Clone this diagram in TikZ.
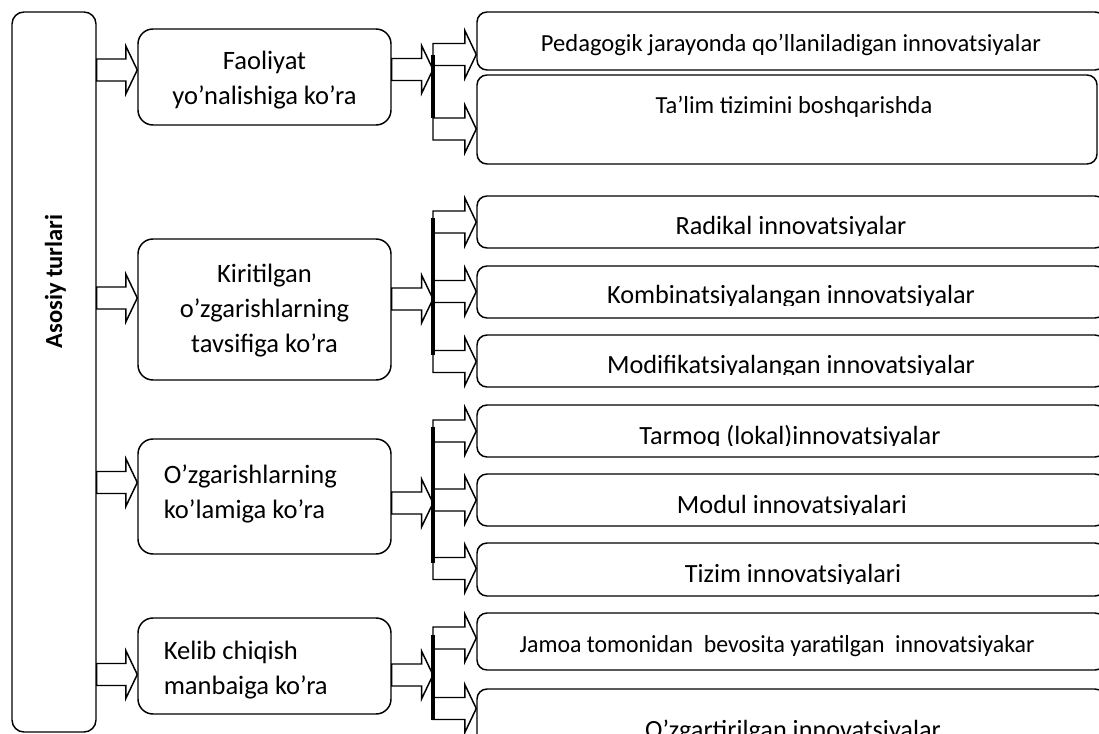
\documentclass[tikz,border=0pt]{standalone}
\usepackage{fontspec}
\setmainfont{Carlito}
\usepackage{graphicx}
\usepackage{tikz}
\usetikzlibrary{calc}
\usetikzlibrary{fit}

% ichi bo'sh blok strelka: #1 dan #2 gacha, balandlik #3
\newcommand\barrow[3]{%
  \draw [blockarrow] let \p1=(#1 |- 0,#3), \p2=(#2 |- 0,#3) in
    (\x1,\y1+8.25pt) -- (\x2-8.6pt,\y1+8.25pt) -- (\x2-8.6pt,\y1+18pt)
    -- (\x2,\y1) -- (\x2-8.6pt,\y1-18pt) -- (\x2-8.6pt,\y1-8.25pt)
    -- (\x1,\y1-8.25pt) -- cycle;}
% pastki qismi kesilgan matn
\newcommand\cuttext[4]{%
  \begin{scope}
    \clip (#2-330,#3-40) rectangle (#2+330,#3+1);
    \node [rtext] (#1) at (#2,#3) {#4};
  \end{scope}}

\begin{document}
\begin{tikzpicture}[x=0.75pt,y=-0.75pt,
  box/.style={draw,line width=1.1pt,inner sep=0pt,rounded corners=#1},
  box/.default=7.5pt,
  blockarrow/.style={line width=1.1pt,line join=miter},
  bar/.style={line width=2.4pt},
  txt/.style={inner sep=0pt,font=\fontsize{19.9}{26.25}\selectfont},
  rtext/.style={inner sep=0pt,anchor=base,font=\fontsize{19.7}{24}\selectfont},
  stext/.style={inner sep=0pt,anchor=base,font=\fontsize{18.4}{22}\selectfont}]
\useasboundingbox (0,0) rectangle (1099,734);

\node [box=9pt,fit={(12,12) (96,732)}] (asosiy) {};
\node [rotate=90,anchor=base,inner sep=0pt,font=\bfseries\fontsize{18.4}{22}\selectfont] (t-asosiy) at (62,281.5) {Asosiy turlari};

\node [box=11.25pt,fit={(138,29) (391,125)}] (fao) {};
\node [box=11.25pt,fit={(138,239) (391,380)}] (kir) {};
\node [box=11.25pt,fit={(138,439) (391,554)}] (ozg) {};
\node [box=11.25pt,fit={(138,618) (391,714)}] (kel) {};
% anchor=base -- oxirgi qator
\node [txt,align=center,anchor=base] (t-fao) at (264.5,105) {Faoliyat\\yo’nalishiga ko’ra};
\node [txt,align=center,anchor=base] (t-kir) at (264.5,352.5) {Kiritilgan\\o’zgarishlarning\\tavsifiga ko’ra};
\node [txt,align=left,anchor=base west] (t-ozg) at (163.5,518) {O’zgarishlarning\\ko’lamiga ko’ra};
\node [txt,align=left,anchor=base west] (t-kel) at (163.5,694) {Kelib chiqish\\manbaiga ko’ra};

\node [box,fit={(477,12) (1105,70)}] (ped) {};
\node [box,fit={(477,75) (1097,164)}] (tal) {};
\node [box,fit={(477,196) (1105,248)}] (rad) {};
\node [box,fit={(477,266) (1105,318)}] (kom) {};
\node [box,fit={(477,335) (1105,387)}] (mod) {};
\node [box,fit={(477,405) (1105,457)}] (tar) {};
\node [box,fit={(477,474) (1105,526)}] (mdl) {};
\node [box,fit={(477,543) (1105,596)}] (tiz) {};
\node [box,fit={(477,613) (1105,670)}] (jam) {};
\node [box,fit={(477,689) (1105,760)}] (ozt) {};

\node [stext] (t-ped) at (791,52) {Pedagogik jarayonda qo’llaniladigan innovatsiyalar};
\node [stext] (t-tal) at (794,114) {Ta’lim tizimini boshqarishda};
\cuttext{t-rad}{791}{235}{Radikal innovatsiyalar}
\cuttext{t-kom}{791}{304}{Kombinatsiyalangan innovatsiyalar}
\cuttext{t-mod}{791}{373}{Modifikatsiyalangan innovatsiyalar}
\cuttext{t-tar}{790}{444}{Tarmoq (lokal)innovatsiyalar}
\cuttext{t-mdl}{792}{513}{Modul innovatsiyalari}
\cuttext{t-tiz}{793}{582}{Tizim innovatsiyalari}
\node [stext] (t-jam) at (777,652) {\scalebox{0.97}[1]{Jamoa tomonidan\ \ bevosita yaratilgan\ \ innovatsiyakar}};
\node [rtext] (t-ozt) at (793,738) {O’zgartirilgan innovatsiyalar};

% tarmoqlanish chiziqlari
\coordinate (j1) at (433,55);  \coordinate (j1e) at (433,118);
\coordinate (j2) at (433,218); \coordinate (j2e) at (433,355);
\coordinate (j3) at (433,427); \coordinate (j3e) at (433,563);
\coordinate (j4) at (433,635); \coordinate (j4e) at (433,720);

\barrow{asosiy.east}{fao.west}{70}
\barrow{asosiy.east}{kir.west}{298}
\barrow{asosiy.east}{ozg.west}{482.5}
\barrow{asosiy.east}{kel.west}{674.5}

\barrow{fao.east}{j1}{69.5}
\barrow{kir.east}{j2}{299}
\barrow{ozg.east}{j3}{503}
\barrow{kel.east}{j4}{675}

\barrow{j1}{ped.west}{54.5}
\barrow{j1}{tal.west}{129}
\barrow{j2}{rad.west}{222}
\barrow{j2}{kom.west}{291.5}
\barrow{j2}{mod.west}{361.5}
\barrow{j3}{tar.west}{431}
\barrow{j3}{mdl.west}{500}
\barrow{j3}{tiz.west}{568.5}
\barrow{j4}{jam.west}{638}
\barrow{j4}{ozt.west}{708.5}

\draw [bar] (j1) -- (j1e);
\draw [bar] (j2) -- (j2e);
\draw [bar] (j3) -- (j3e);
\draw [bar] (j4) -- (j4e);

\end{tikzpicture}
\end{document}
